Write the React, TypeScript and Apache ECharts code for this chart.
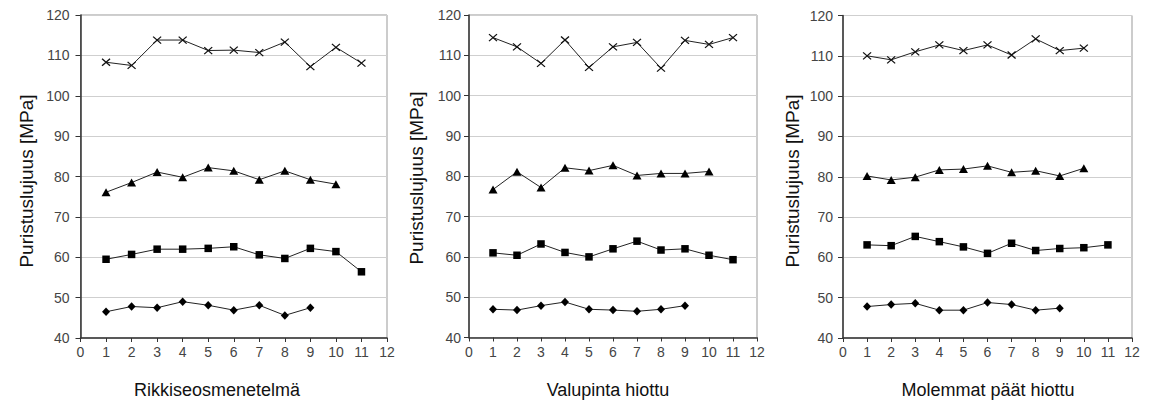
import React, { useEffect, useRef } from "react";
import * as echarts from "echarts";

const xTicks = [0, 1, 2, 3, 4, 5, 6, 7, 8, 9, 10, 11, 12];
const yTicks = [40, 50, 60, 70, 80, 90, 100, 110, 120];
const panelTitles = ["Rikkiseosmenetelmä", "Valupinta hiottu", "Molemmat päät hiottu"];
const yAxisTitle = "Puristuslujuus [MPa]";

// Panel 1: Rikkiseosmenetelmä
const p1Cross = [108.3, 107.5, 113.8, 113.8, 111.2, 111.3, 110.7, 113.3, 107.2, 112.0, 108.1];
const p1Triangle = [76.1, 78.5, 81.1, 79.8, 82.2, 81.4, 79.2, 81.4, 79.2, 78.1];
const p1Square = [59.5, 60.7, 62.0, 62.0, 62.2, 62.6, 60.6, 59.7, 62.2, 61.4, 56.4];
const p1Diamond = [46.5, 47.8, 47.5, 49.0, 48.1, 46.9, 48.1, 45.6, 47.5];

// Panel 2: Valupinta hiottu
const p2Cross = [114.4, 112.1, 108.0, 113.8, 107.0, 112.1, 113.2, 106.8, 113.7, 112.7, 114.4];
const p2Triangle = [76.7, 81.1, 77.2, 82.1, 81.4, 82.7, 80.2, 80.7, 80.7, 81.2];
const p2Square = [61.0, 60.4, 63.2, 61.1, 60.0, 62.0, 63.9, 61.7, 62.0, 60.4, 59.3];
const p2Diamond = [47.0, 46.8, 47.9, 48.8, 47.0, 46.8, 46.5, 47.0, 47.9];

// Panel 3: Molemmat päät hiottu
const p3Cross = [110.0, 109.0, 111.0, 112.7, 111.3, 112.7, 110.2, 114.2, 111.3, 111.9];
const p3Triangle = [80.2, 79.2, 79.9, 81.7, 81.9, 82.7, 81.1, 81.5, 80.2, 82.1];
const p3Square = [63.1, 62.9, 65.2, 63.9, 62.6, 61.0, 63.5, 61.7, 62.2, 62.4, 63.1];
const p3Diamond = [47.8, 48.3, 48.6, 46.9, 46.9, 48.8, 48.3, 46.9, 47.4];

const panels = [
  [p1Cross, p1Triangle, p1Square, p1Diamond],
  [p2Cross, p2Triangle, p2Square, p2Diamond],
  [p3Cross, p3Triangle, p3Square, p3Diamond],
];

const FONT = "Liberation Sans, Arial, sans-serif";

export default function App() {
  const ref = useRef<HTMLDivElement>(null);
  useEffect(() => {
    if (!ref.current) return;
    const chart = echarts.init(ref.current, undefined, { renderer: "svg" });

    const grids = [
      { left: 80.5, top: 15, width: 306.5, height: 323 },
      { left: 469, top: 15, width: 288, height: 322.5 },
      { left: 843, top: 15.5, width: 289, height: 322.5 },
    ];
    const yLabelMargins = [11, 8, 10];
    const yTitlePos = [
      { x: 26, y: 181 },
      { x: 416, y: 178 },
      { x: 792, y: 181 },
    ];
    const xTitlePos = [
      { x: 217, y: 390 },
      { x: 608, y: 390 },
      { x: 988, y: 390 },
    ];

    const symbols = [
      { symbol: "path://M0,0L10,10M10,0L0,10", size: [8, 7], cross: true },
      { symbol: "triangle", size: [9, 8], cross: false },
      { symbol: "rect", size: [7.5, 7.5], cross: false },
      { symbol: "diamond", size: [8, 8.5], cross: false },
    ];

    const series: any[] = [];
    panels.forEach((panel, pi) => {
      panel.forEach((vals, si) => {
        const s = symbols[si];
        series.push({
          type: "line",
          xAxisIndex: pi,
          yAxisIndex: pi,
          data: vals.map((v, i) => [i + 1, v]),
          symbol: s.symbol,
          symbolSize: s.size,
          showSymbol: true,
          lineStyle: { color: "#222", width: 1 },
          itemStyle: s.cross
            ? { color: "rgba(0,0,0,0)", borderColor: "#111", borderWidth: 1.2 }
            : { color: "#000", borderWidth: 0 },
          emphasis: { disabled: true },
          z: 3,
        });
      });
    });

    const graphics: any[] = [];
    for (let i = 0; i < 3; i++) {
      graphics.push({
        type: "text",
        x: yTitlePos[i].x,
        y: yTitlePos[i].y,
        rotation: Math.PI / 2,
        style: {
          text: yAxisTitle,
          font: `19px ${FONT}`,
          fill: "#111",
          align: "center",
          verticalAlign: "middle",
        },
      });
      graphics.push({
        type: "text",
        x: xTitlePos[i].x,
        y: xTitlePos[i].y,
        style: {
          text: panelTitles[i],
          font: `18px ${FONT}`,
          fill: "#111",
          align: "center",
          verticalAlign: "middle",
        },
      });
    }

    chart.setOption({
      animation: false,
      backgroundColor: "#fff",
      grid: grids.map((g) => ({
        ...g,
        show: true,
        borderColor: "#999",
        borderWidth: 1,
        backgroundColor: "#fff",
        containLabel: false,
      })),
      xAxis: grids.map((_, i) => ({
        type: "value",
        gridIndex: i,
        min: xTicks[0],
        max: xTicks[xTicks.length - 1],
        interval: 1,
        axisLine: { show: true, onZero: false, lineStyle: { color: "#333", width: 1.5 } },
        axisTick: { show: true, length: 4, lineStyle: { color: "#333" } },
        axisLabel: { color: "#444", fontSize: 14, fontFamily: FONT, margin: 7 },
        splitLine: { show: false },
      })),
      yAxis: grids.map((_, i) => ({
        type: "value",
        gridIndex: i,
        min: yTicks[0],
        max: yTicks[yTicks.length - 1],
        interval: 10,
        axisLine: { show: true, onZero: false, lineStyle: { color: "#333", width: 1.5 } },
        axisTick: { show: true, length: 5, lineStyle: { color: "#333" } },
        axisLabel: { color: "#444", fontSize: 14, fontFamily: FONT, margin: yLabelMargins[i] },
        splitLine: { show: true, lineStyle: { color: "#cfcfcf", width: 1 } },
      })),
      series,
      graphic: graphics,
    });

    return () => chart.dispose();
  }, []);

  return (
    <div
      ref={ref}
      style={{ position: "fixed", left: 0, top: 0, width: 1151, height: 403 }}
    />
  );
}
